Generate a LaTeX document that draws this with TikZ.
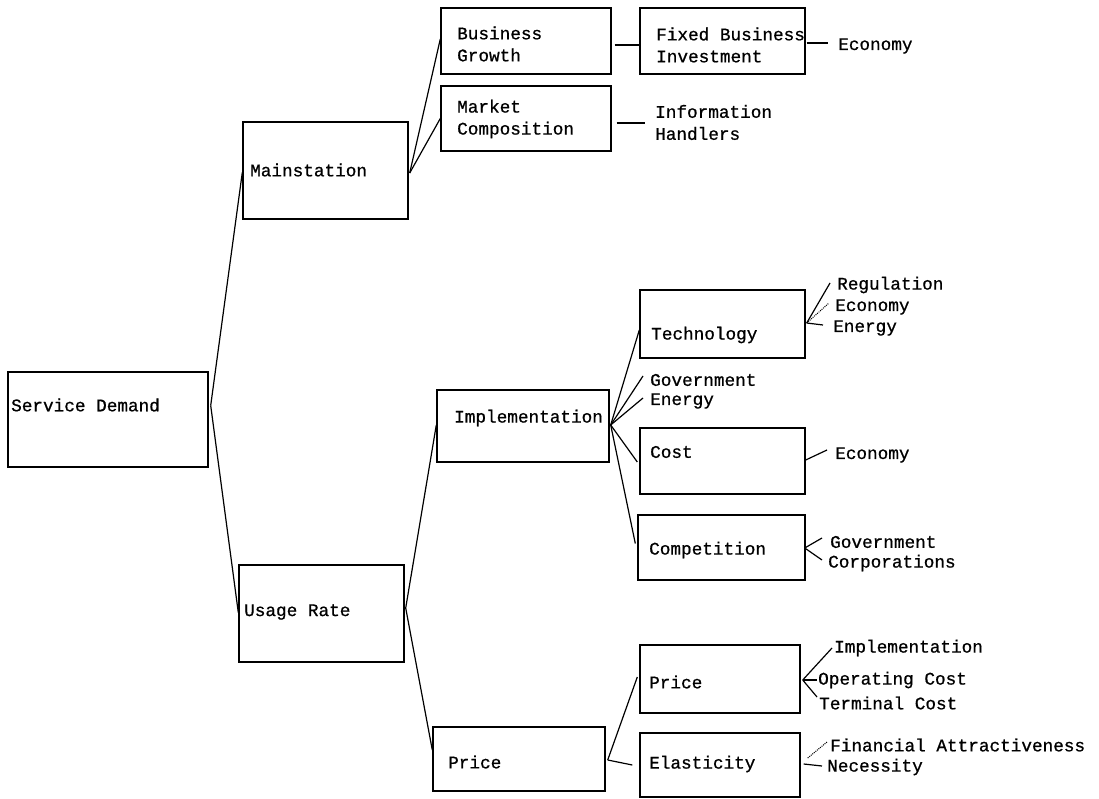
\documentclass[tikz,border=0pt]{standalone}
\usepackage{fontspec}
\setmainfont{Liberation Mono}[FakeBold=0.8]
\usetikzlibrary{calc}
\begin{document}
\begin{tikzpicture}[x=1pt,y=-1pt,
  box/.style={draw,line width=1.4pt,inner sep=0pt,rectangle},
  txt/.style={inner sep=0pt,anchor=west,align=left,font=\fontsize{17.7}{22}\selectfont},
  conn/.style={line width=1.2pt},
  faint/.style={line width=1pt,densely dotted}]
\useasboundingbox (0,0) rectangle (1099,799);
% boxes
\node[box,minimum width=200pt,minimum height=95pt] (sd) at (108,419.5) {};
\node[box,minimum width=165pt,minimum height=97pt] (ms) at (325.5,170.5) {};
\node[box,minimum width=165pt,minimum height=97pt] (ur) at (321.5,613.5) {};
\node[box,minimum width=170pt,minimum height=66pt] (bg) at (526,41) {};
\node[box,minimum width=170pt,minimum height=65pt] (mc) at (526,118.5) {};
\node[box,minimum width=165pt,minimum height=66pt] (fbi) at (722.5,41) {};
\node[box,minimum width=172pt,minimum height=72pt] (imp) at (523,426) {};
\node[box,minimum width=172pt,minimum height=64pt] (pr2) at (519,759) {};
\node[box,minimum width=165pt,minimum height=68pt] (tech) at (722.5,324) {};
\node[box,minimum width=165pt,minimum height=66pt] (cost) at (722.5,461) {};
\node[box,minimum width=167pt,minimum height=65pt] (comp) at (721.5,547.5) {};
\node[box,minimum width=160pt,minimum height=68pt] (pr3) at (720,679) {};
\node[box,minimum width=160pt,minimum height=64pt] (el) at (720,765) {};
% texts in boxes
\node[txt] (sdT) at (11,405) {Service Demand};
\node[txt] (msT) at (250,170) {Mainstation};
\node[txt] (urT) at (244,612) {Usage Rate};
\node[txt] (bgT) at (457,44) {Business\\Growth};
\node[txt] (mcT) at (457,119) {Market\\Composition};
\node[txt] (fbiT) at (656,45) {Fixed Business\\Investment};
\node[txt] (impT) at (454,418) {Implementation};
\node[txt] (pr2T) at (448,762) {Price};
\node[txt] (techT) at (651,335) {Technology};
\node[txt] (costT) at (650,452) {Cost};
\node[txt] (compT) at (649,550) {Competition};
\node[txt] (pr3T) at (649,682) {Price};
\node[txt] (elT) at (649,764) {Elasticity};
% free labels
\node[txt] (econA) at (838,46) {Economy};
\node[txt] (info) at (655,122.5) {Information\\Handlers};
\node[txt] (gov) at (650,380) {Government};
\node[txt] (ener) at (650,401) {Energy};
\node[txt] (reg) at (837,285) {Regulation};
\node[txt] (econB) at (835,307) {Economy};
\node[txt] (enB) at (833,328) {Energy};
\node[txt] (econC) at (835,455) {Economy};
\node[txt] (govB) at (830,542) {Government};
\node[txt] (corp) at (828,563) {Corporations};
\node[txt] (implB) at (834,648) {Implementation};
\node[txt] (opC) at (818,680) {Operating Cost};
\node[txt] (termC) at (819,703) {Terminal Cost};
\node[txt] (fin) at (830,745) {Financial Attractiveness};
\node[txt] (nec) at (827,767) {Necessity};
% connectors
\coordinate (sdJ) at ($(sd.east)+(2,-14)$);
\draw[conn] (sdJ) -- ($(ms.west)+(0,2)$);
\draw[conn] (sdJ) -- ($(ur.west)+(0,-1)$);
\coordinate (msJ) at ($(ms.east)+(1,2.5)$);
\draw[conn] (msJ) -- ($(bg.west)+(0,-2)$);
\draw[conn] (msJ) -- (mc.west);
\draw[conn] ($(bg.east)+(3,4)$) -- ($(fbi.west)+(0,4)$);
\draw[conn] ($(fbi.east)+(1,2)$) -- ($(econA.west)+(-10,-3)$);
\draw[conn] ($(mc.east)+(5,4.5)$) -- ($(info.west)+(-10,0.5)$);
\coordinate (urJ) at ($(ur.east)+(1,-5.5)$);
\draw[conn] (urJ) -- ($(imp.west)+(0,-1)$);
\draw[conn] (urJ) -- ($(pr2.west)+(0,-9)$);
\coordinate (impJ) at ($(imp.east)+(1,-1)$);
\draw[conn] (impJ) -- ($(tech.west)+(0,6)$);
\draw[conn] (impJ) -- ($(gov.west)+(-7,-4)$);
\draw[conn] (impJ) -- ($(ener.west)+(-7,-3)$);
\draw[conn] (impJ) -- ($(cost.west)+(-2,1)$);
\draw[conn] (impJ) -- ($(comp.west)+(-2,-4)$);
\coordinate (techJ) at ($(tech.east)+(1,-1)$);
\draw[conn] (techJ) -- ($(reg.west)+(-7,-2)$);
\draw[faint] (techJ) -- ($(econB.west)+(-6,-4)$);
\draw[conn] (techJ) -- ($(enB.west)+(-10,-3)$);
\draw[conn] ($(cost.east)+(0,-1)$) -- ($(econC.west)+(-8,-5)$);
\coordinate (compJ) at ($(comp.east)+(-1,0.5)$);
\draw[conn] (compJ) -- ($(govB.west)+(-8,-4)$);
\draw[conn] (compJ) -- ($(corp.west)+(-6,-3)$);
\coordinate (pr2J) at ($(pr2.east)+(2,1)$);
\draw[conn] (pr2J) -- ($(pr3.west)+(-2,-2)$);
\draw[conn] (pr2J) -- ($(el.west)+(-7,0)$);
\coordinate (pr3J) at ($(pr3.east)+(2,1)$);
\draw[conn] (pr3J) -- ($(implB.west)+(-2,0)$);
\draw[conn] (pr3J) -- ($(opC.west)+(-1,0)$);
\draw[conn] (pr3J) -- ($(termC.west)+(-2,-6)$);
\draw[faint] ($(el.east)+(7,-7)$) -- ($(fin.west)+(-3,-3)$);
\draw[conn] ($(el.east)+(3,-1)$) -- ($(nec.west)+(-5,-1)$);
\end{tikzpicture}
\end{document}
